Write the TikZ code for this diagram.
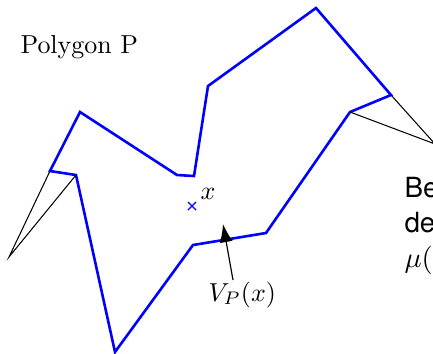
\documentclass[tikz,border=0pt]{standalone}
\usepackage{fontspec}
\newfontfamily\helv{TeX Gyre Heros}
\usetikzlibrary{positioning, arrows.meta, shapes.misc}
\definecolor{cP}{RGB}{0,0,255}

\begin{document}
\begin{tikzpicture}[x=0.385pt, y=-0.385pt,
    poly/.style={draw=cP, line width=1pt, line join=miter},
    sight/.style={draw=black, line width=0.4pt},
    pointer/.style={draw=black, line width=0.45pt, -{Latex[length=7pt, width=5pt]}},
    lbl/.style={inner sep=0pt, anchor=base west},
    side/.style={lbl, font=\helv\fontsize{10.7pt}{13.5pt}\selectfont}]

    \useasboundingbox (0,0) rectangle (433,353);

    % Vertices of P
    \coordinate (A) at (50,171);
    \coordinate (B) at (76,175);
    \coordinate (C) at (115,352);
    \coordinate (D) at (193,245);
    \coordinate (E) at (266,233);
    \coordinate (F) at (350,112);
    \coordinate (G) at (391,95);
    \coordinate (H) at (316,8);
    \coordinate (I) at (208,86);
    \coordinate (J) at (194,176);
    \coordinate (K) at (177,175);
    \coordinate (L) at (80,112);

    % Outer points of the pockets
    \coordinate (PL) at (9,257);
    \coordinate (PR) at (435,144);

    % Polygon
    \draw[poly] (A) -- (B) -- (C) -- (D) -- (E) -- (F) -- (G) -- (H)
                -- (I) -- (J) -- (K) -- (L) -- cycle;

    % Pockets
    \draw[sight] (A) -- (PL) -- (B);
    \draw[sight] (G) -- (PR) -- (F);

    % Point x
    \node[cross out, draw=cP, line width=0.5pt, minimum size=2.6pt, inner sep=0pt] (X) at (192,206) {};
    \node[lbl] (Xlbl) at (200,199) {$x$};

    % Labels
    \node[lbl] (title) at (20,53) {Polygon P};
    \node[lbl] (Vlbl) at (208,301) {$V_P(x)$};
    \coordinate (Vtail) at (233,280);
    \coordinate (Vtip) at (223,224);
    \draw[pointer] (Vtail) -- (Vtip);

    % Text at the right edge
    \node[side] (be) at (404,197) {Be};
    \node[side] (de) at (404,232) {de};
    \node[side] (mu) at (404,267) {$\mu($};

\end{tikzpicture}
\end{document}
